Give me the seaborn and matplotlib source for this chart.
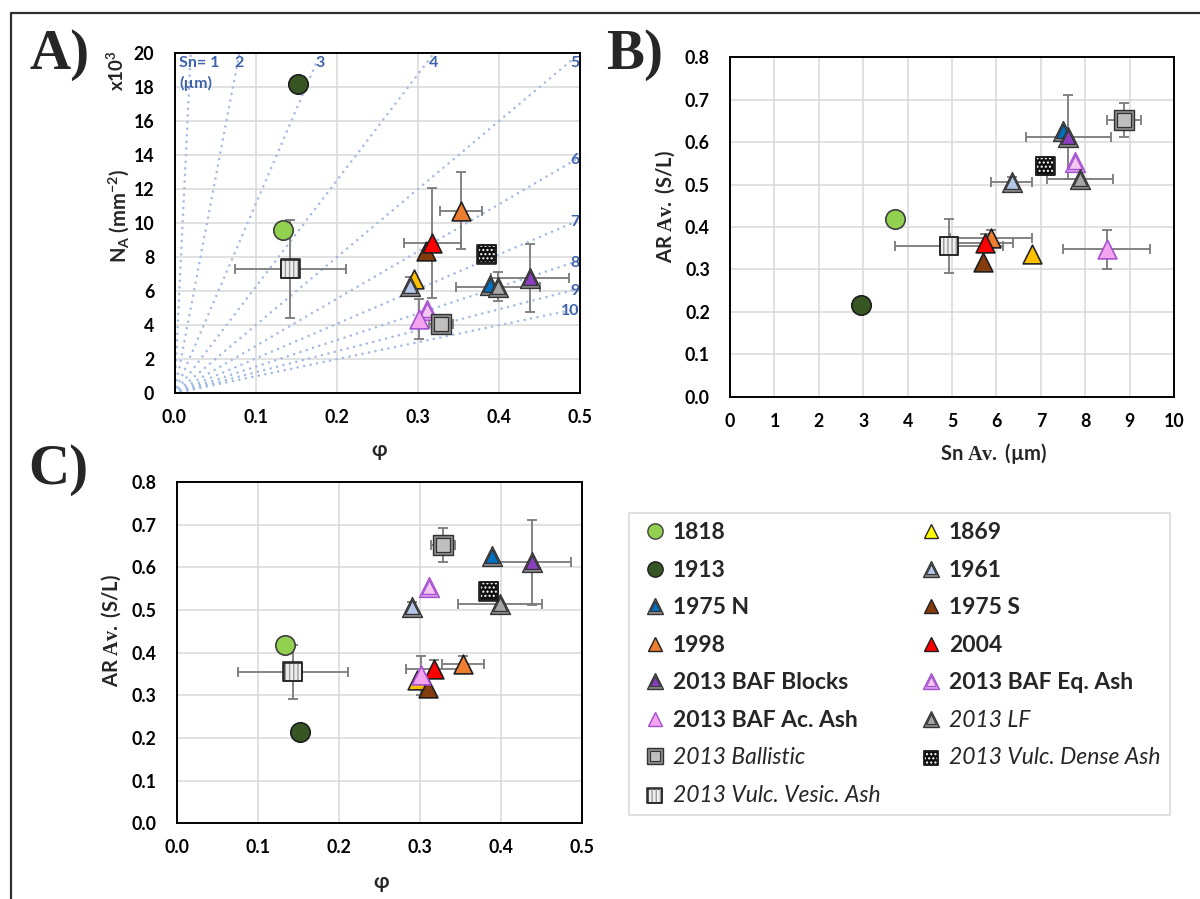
import matplotlib
matplotlib.use("Agg")
import matplotlib.pyplot as plt
import seaborn as sns
from matplotlib.lines import Line2D
from matplotlib.legend_handler import HandlerTuple
from matplotlib.ticker import MultipleLocator, FormatStrFormatter

# ---------------------------------------------------------------- data
series = ["1818", "1869", "1913", "1961", "1975 N", "1975 S", "1998", "2004",
          "2013 BAF Blocks", "2013 BAF Eq. Ash", "2013 BAF Ac. Ash", "2013 LF",
          "2013 Ballistic", "2013 Vulc. Dense Ash", "2013 Vulc. Vesic. Ash"]

# crystallinity (phi) and its spread
phi = [0.134, 0.296, 0.152, 0.290, 0.389, 0.310, 0.353, 0.318,
       0.439, 0.312, 0.302, 0.399, 0.329, 0.385, 0.143]
phi_err = [0, 0, 0, 0, 0, 0, 0.026, 0.035,
           0.048, 0, 0, 0.052, 0.015, 0, 0.068]
# number density N_A (x10^3 mm^-2)
na = [9.6, 6.7, 18.2, 6.3, 6.4, 8.4, 10.75, 8.85,
      6.8, 4.88, 4.35, 6.27, 4.05, 8.17, 7.33]
na_err = [0, 0, 0, 0.55, 0, 0, 2.26, 3.22,
          2.0, 0, 1.18, 0.85, 0, 0, 2.88]
# average crystal size Sn (µm)
sn = [3.72, 6.81, 2.95, 6.34, 7.49, 5.69, 5.87, 5.74,
      7.62, 7.77, 8.48, 7.88, 8.88, 7.10, 4.93]
sn_err = [0, 0, 0, 0.46, 0, 0, 0.92, 0.64,
          0.95, 0, 0.97, 0.74, 0.38, 0, 1.22]
# average aspect ratio (S/L)
ar = [0.418, 0.337, 0.215, 0.506, 0.627, 0.317, 0.373, 0.362,
      0.612, 0.554, 0.347, 0.513, 0.653, 0.544, 0.355]
ar_err = [0, 0, 0, 0.012, 0, 0, 0.02, 0.021,
          0.1, 0, 0.046, 0, 0.04, 0, 0.063]

# iso-size guide lines in panel A
sn_guides = [1, 2, 3, 4, 5, 6, 7, 8, 9, 10]

italic_labels = {"2013 LF", "2013 Ballistic", "2013 Vulc. Dense Ash",
                 "2013 Vulc. Vesic. Ash"}

# ---------------------------------------------------------------- styles
# marker, face, edge, band colour (double border) or None, fill pattern
styles = {
    "1818": ("o", "#92d050", "#404040", None, None),
    "1869": ("^", "#ffc000", "#262626", None, None),
    "1913": ("o", "#375623", "#1e1e1e", None, None),
    "1961": ("^", "#b4c7e7", "#333333", "#8c8c8c", None),
    "1975 N": ("^", "#0070c0", "#333333", "#8c8c8c", None),
    "1975 S": ("^", "#843c0c", "#1e1e1e", None, None),
    "1998": ("^", "#ed7d31", "#1e1e1e", None, None),
    "2004": ("^", "#ff0000", "#1e1e1e", None, None),
    "2013 BAF Blocks": ("^", "#8a3fc0", "#333333", "#8c8c8c", None),
    "2013 BAF Eq. Ash": ("^", "#f6c6f2", "#a550d0", "#d49ee8", None),
    "2013 BAF Ac. Ash": ("^", "#f4a3ef", "#a550d0", None, None),
    "2013 LF": ("^", "#a6a6a6", "#333333", "#8c8c8c", None),
    "2013 Ballistic": ("s", "#bfbfbf", "#333333", "#8c8c8c", None),
    "2013 Vulc. Dense Ash": ("s", "#0d0d0d", "#1e1e1e", None, ("....", "#ffffff")),
    "2013 Vulc. Vesic. Ash": ("s", "#eeeeee", "#262626", None, ("||||", "#9a9a9a")),
}
legend_face = {"1869": "#ffff00"}
BASE = {"o": 14.0, "^": 13.5, "s": 13.5}

sns.set_style("white")
plt.rcParams["font.family"] = ["Lato", "DejaVu Sans"]
plt.rcParams["font.weight"] = "bold"
plt.rcParams["mathtext.fontset"] = "custom"
plt.rcParams["mathtext.rm"] = "Liberation Serif"
plt.rcParams["mathtext.bf"] = "Lato:bold"
plt.rcParams["mathtext.it"] = "Lato:italic"

W, H = 1200, 899
fig = plt.figure(figsize=(12, 8.99), dpi=100)


def axes_px(left, top, right, bottom):
    return fig.add_axes([left / W, 1 - bottom / H, (right - left) / W, (bottom - top) / H])


axA = axes_px(174.5, 53.3, 579.8, 393.3)
axB = axes_px(730.1, 57.3, 1174.0, 396.7)
axC = axes_px(176.8, 482.0, 581.7, 823.3)


def style_axes(ax, xmax, xmaj, ymax, ymaj, xfmt, yfmt):
    ax.set_xlim(0, xmax)
    ax.set_ylim(0, ymax)
    ax.xaxis.set_major_locator(MultipleLocator(xmaj))
    ax.xaxis.set_minor_locator(MultipleLocator(xmaj / 5))
    ax.yaxis.set_major_locator(MultipleLocator(ymaj))
    ax.yaxis.set_minor_locator(MultipleLocator(ymaj / 5))
    ax.xaxis.set_major_formatter(FormatStrFormatter(xfmt))
    ax.yaxis.set_major_formatter(FormatStrFormatter(yfmt))
    ax.grid(True, which="major", color="#d9d9d9", lw=1.1)
    ax.set_axisbelow(True)
    for sp in ax.spines.values():
        sp.set_color("black")
        sp.set_linewidth(1.4)
    ax.tick_params(which="major", direction="inout", length=8, width=1.4,
                   labelsize=12.8, colors="black")
    ax.tick_params(axis="x", which="major", pad=7.5)
    ax.tick_params(axis="y", which="major", pad=10.5)
    ax.tick_params(which="minor", direction="in", length=4, width=1.1, colors="black")


style_axes(axA, 0.5, 0.1, 20, 2, "%.1f", "%d")
style_axes(axB, 10, 1, 0.8, 0.1, "%d", "%.1f")
style_axes(axC, 0.5, 0.1, 0.8, 0.1, "%.1f", "%.1f")


def draw_point(ax, x, y, name):
    marker, face, edge, band, pattern = styles[name]
    base = BASE[marker]
    kw = dict(ax=ax, marker=marker, zorder=4, legend=False)
    if band:
        sns.scatterplot(x=[x], y=[y], s=(base * 1.06) ** 2, color=band,
                        edgecolor=edge, linewidth=1.0, **kw)
        sns.scatterplot(x=[x], y=[y], s=(base * 0.74) ** 2, color=face,
                        edgecolor=edge, linewidth=0.9, **kw)
    else:
        sns.scatterplot(x=[x], y=[y], s=base ** 2, color=face,
                        edgecolor=edge, linewidth=1.2, **kw)
    if pattern:
        hatch, hcol = pattern
        sns.scatterplot(x=[x], y=[y], s=(base * 0.85) ** 2, color="none",
                        edgecolor=hcol, linewidth=0, hatch=hatch, **kw)
        sns.scatterplot(x=[x], y=[y], s=base ** 2, color="none",
                        edgecolor=edge, linewidth=1.2, **kw)


def draw_panel(ax, xs, xe, ys, ye):
    for x, dx, y, dy in zip(xs, xe, ys, ye):
        if dx or dy:
            ax.errorbar(x, y, xerr=dx if dx else None, yerr=dy if dy else None,
                        fmt="none", ecolor="#7a7a7a", elinewidth=1.3,
                        capsize=3.5, capthick=1.3, zorder=3)
    for name, x, y in zip(series, xs, ys):
        draw_point(ax, x, y, name)


# iso-Sn lines: N_A = phi / Sn^2 (Sn in µm, N_A in 10^3 mm^-2)
guide_col = "#a3bbe3"
label_col = "#3d63ad"
for g in sn_guides:
    slope = 1000.0 / g ** 2
    axA.axline((0, 0), slope=slope, color=guide_col, lw=1.9,
               ls=(0, (0.01, 2.5)), dash_capstyle="round", zorder=1.5)
    end_phi = min(20.0 / slope, 0.5)
    end_na = slope * end_phi
    if g == 1:
        continue
    if end_na >= 19.99 and end_phi < 0.45:
        axA.text(end_phi, 19.45, str(g), ha="center", va="center",
                 color=label_col, fontsize=11.5, fontweight="bold", zorder=2)
    else:
        axA.text(0.4995, min(end_na - 0.15, 19.45), str(g), ha="right", va="center",
                 color=label_col, fontsize=11.5, fontweight="bold", zorder=2)
axA.text(0.006, 19.45, "Sn= 1", ha="left", va="center", color=label_col,
         fontsize=11.5, fontweight="bold", zorder=2)
axA.text(0.006, 18.2, "(µm)", ha="left", va="center", color=label_col,
         fontsize=11.5, fontweight="bold", zorder=2)

draw_panel(axA, phi, phi_err, na, na_err)
draw_panel(axB, sn, sn_err, ar, ar_err)
draw_panel(axC, phi, phi_err, ar, ar_err)

# axis titles
lab = dict(fontsize=14.5, fontweight="bold")
axA.set_ylabel(r"N$_{\mathbf{A}}$ (mm$^{\mathbf{-2}}$)", va="center", **lab)
axA.yaxis.set_label_coords(-0.138, 0.521)
axA.text(-0.144, 0.948, r"x10$^{\mathbf{3}}$", rotation=90, ha="center", va="center",
         transform=axA.transAxes, fontsize=13.5, fontweight="bold")
axA.set_xlabel("φ", va="center", **lab)
axA.xaxis.set_label_coords(0.505, -0.167)

axB.set_ylabel(r"AR $\mathrm{Av.}$ (S/L)", va="center", **lab)
axB.yaxis.set_label_coords(-0.147, 0.56)
axB.set_xlabel(r"Sn $\mathrm{Av.}$ (µm)", va="center", **lab)
axB.xaxis.set_label_coords(0.594, -0.166)

axC.set_ylabel(r"AR $\mathrm{Av.}$ (S/L)", va="center", **lab)
axC.yaxis.set_label_coords(-0.1625, 0.566)
axC.set_xlabel("φ", va="center", **lab)
axC.xaxis.set_label_coords(0.504, -0.171)

# panel letters
for txt, x, y in [("A)", 29, 68.3), ("B)", 606, 68.3), ("C)", 28.7, 483.3)]:
    fig.text(x / W, 1 - y / H, txt, ha="left", va="baseline",
             family="Liberation Serif", fontweight="bold", fontsize=41)

# outer frame
fig.add_artist(Line2D([10.5 / W, 10.5 / W], [0, 1 - 13.3 / H],
                      transform=fig.transFigure, color="#303030", lw=1.6))
fig.add_artist(Line2D([10.5 / W, 1], [1 - 13.3 / H, 1 - 13.3 / H],
                      transform=fig.transFigure, color="#303030", lw=1.6))

# legend
LEG = 10.5


def legend_handle(name):
    marker, face, edge, band, pattern = styles[name]
    face = legend_face.get(name, face)
    size = LEG * (1.05 if marker == "o" else 1.0)
    if band:
        outer = Line2D([], [], ls="none", marker=marker, markersize=size * 1.06,
                       markerfacecolor=band, markeredgecolor=edge, markeredgewidth=1.0)
        inner = Line2D([], [], ls="none", marker=marker, markersize=size * 0.7,
                       markerfacecolor=face, markeredgecolor=edge, markeredgewidth=0.8)
        return (outer, inner)
    if pattern:
        hatch, hcol = pattern
        s0 = axC.scatter([], [], marker=marker, s=size ** 2, facecolor=face,
                         edgecolor=edge, linewidth=1.1)
        s1 = axC.scatter([], [], marker=marker, s=(size * 0.85) ** 2, facecolor="none",
                         edgecolor=hcol, linewidth=0, hatch=hatch)
        s2 = axC.scatter([], [], marker=marker, s=size ** 2, facecolor="none",
                         edgecolor=edge, linewidth=1.1)
        return (s0, s1, s2)
    return Line2D([], [], ls="none", marker=marker, markersize=size,
                  markerfacecolor=face, markeredgecolor=edge, markeredgewidth=1.0)


# two columns, filled column by column
col1 = ["1818", "1913", "1975 N", "1998", "2013 BAF Blocks", "2013 BAF Ac. Ash",
        "2013 Ballistic", "2013 Vulc. Vesic. Ash"]
col2 = ["1869", "1961", "1975 S", "2004", "2013 BAF Eq. Ash", "2013 LF",
        "2013 Vulc. Dense Ash"]
order = col1 + col2
handles = [legend_handle(n) for n in order]
leg = fig.legend(handles, order, ncol=2, loc="upper left",
                 bbox_to_anchor=(629 / W, 1 - 513 / H), borderaxespad=0,
                 fontsize=16.5, frameon=True, fancybox=False, framealpha=1,
                 edgecolor="#d9d9d9", borderpad=0.4, labelspacing=0.72,
                 handlelength=1.45, handletextpad=0.05, columnspacing=1.5,
                 scatterpoints=1,
                 handler_map={tuple: HandlerTuple(ndivide=1, pad=0)})
leg.get_frame().set_linewidth(1.2)
for t in leg.get_texts():
    if t.get_text() in italic_labels:
        t.set_fontstyle("italic")
        t.set_fontweight("normal")
    else:
        t.set_fontweight("bold")

fig.savefig("out.png", dpi=100)
